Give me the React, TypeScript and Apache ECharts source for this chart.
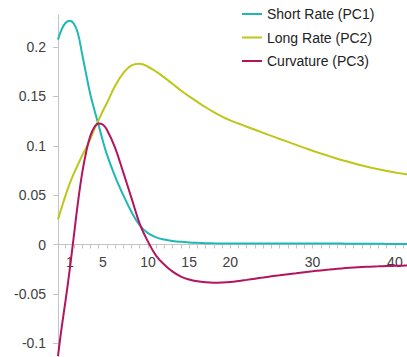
import React, { useEffect, useRef } from "react";
import * as echarts from "echarts";

const maturities = [
  -0.93, -0.5, 0, 0.5, 1, 1.5, 2, 2.5, 3, 3.5, 4, 4.5,
  5, 6, 7, 8, 9, 10, 11, 12, 13, 14, 15, 16, 17, 18, 19, 20,
  21, 22, 23, 24, 25, 26, 27, 28, 29, 30, 31, 32, 33, 34, 35,
  36, 37, 38, 39, 40, 41, 41.47,
];

const shortRate = [
  0.2075, 0.2175, 0.2245, 0.2265, 0.2235, 0.2135, 0.193, 0.172, 0.152, 0.136, 0.121, 0.1055,
  0.0915, 0.069, 0.05, 0.033, 0.0195, 0.0115, 0.0072, 0.005, 0.0036, 0.0027, 0.0021, 0.0017, 0.0014, 0.0012, 0.0011, 0.001,
  0.001, 0.001, 0.001, 0.001, 0.001, 0.001, 0.001, 0.001, 0.001, 0.001, 0.001, 0.001, 0.001, 0.0009, 0.0009,
  0.0008, 0.0008, 0.0007, 0.0006, 0.0005, 0.0005, 0.0004,
];

const longRate = [
  0.0255, 0.037, 0.05, 0.062, 0.072, 0.081, 0.09, 0.098, 0.107, 0.117, 0.126, 0.135,
  0.143, 0.1605, 0.1735, 0.1815, 0.183, 0.18, 0.175, 0.169, 0.1625, 0.156, 0.15, 0.1445, 0.139, 0.134, 0.1295, 0.1257,
  0.1225, 0.1193, 0.1162, 0.1131, 0.11, 0.1069, 0.1039, 0.1009, 0.0979, 0.095, 0.0922, 0.0895, 0.0869, 0.0845, 0.0822,
  0.08, 0.078, 0.0762, 0.0745, 0.073, 0.0716, 0.071,
];

const curvature = [
  -0.113, -0.085, -0.056, -0.025, 0.009, 0.043, 0.072, 0.094, 0.11, 0.119, 0.1225, 0.1215,
  0.1165, 0.098, 0.073, 0.047, 0.021, 0.003, -0.0115, -0.0205, -0.0275, -0.0325, -0.0355, -0.0373, -0.0383, -0.0387, -0.0385, -0.038,
  -0.037, -0.0358, -0.0346, -0.0334, -0.0322, -0.0311, -0.03, -0.029, -0.028, -0.0271, -0.0262, -0.0254, -0.0246, -0.0239, -0.0233,
  -0.0228, -0.0224, -0.0221, -0.0218, -0.0216, -0.0214, -0.0213,
];

const seriesNames = ["Short Rate (PC1)", "Long Rate (PC2)", "Curvature (PC3)"];
const seriesColors = ["#1EB8B6", "#BDC71A", "#B3145E"];
const xLabels = [1, 5, 10, 15, 20, 30, 40];
const yLabels = [-0.1, -0.05, 0, 0.05, 0.1, 0.15, 0.2];

const xTicks: number[] = [];
for (let i = 0; i <= 41; i++) xTicks.push(i);

const FONT = "Liberation Sans, Arial, sans-serif";

export default function App() {
  const ref = useRef<HTMLDivElement>(null);
  useEffect(() => {
    if (!ref.current) return;
    const chart = echarts.init(ref.current, undefined, { renderer: "svg" });
    const values = [shortRate, longRate, curvature];
    chart.setOption({
      animation: false,
      backgroundColor: "#ffffff",
      grid: { left: 58, right: 0, top: 15, bottom: 0, containLabel: false, outerBoundsMode: "none" },
      legend: {
        orient: "vertical",
        left: 242,
        top: 7,
        padding: 0,
        itemWidth: 20,
        itemHeight: 2,
        itemGap: 9.5,
        icon: "rect",
        textStyle: { fontFamily: FONT, fontSize: 14, color: "#222" },
        data: seriesNames,
      },
      xAxis: {
        type: "value",
        position: "bottom",
        offset: 0,
        min: -0.93,
        max: 41.47,
        axisLine: { show: true, onZero: false, lineStyle: { color: "#c4c4c4", width: 1 } },
        axisTick: { show: true, length: 4, lineStyle: { color: "#c4c4c4" }, customValues: xTicks },
        axisLabel: {
          customValues: xLabels,
          margin: 10,
          fontFamily: FONT,
          fontSize: 14,
          color: "#404040",
          formatter: (v: number) => (v < 10 ? `{l|${v}}` : `${v}`),
          rich: { l: { padding: [0, 8, 0, 0], fontFamily: FONT, fontSize: 14, color: "#404040" } },
        },
        splitLine: { show: false },
      },
      yAxis: {
        type: "value",
        min: -0.1139,
        max: 0.2324,
        axisLine: { show: true, onZero: false, lineStyle: { color: "#c4c4c4", width: 1 } },
        axisTick: { show: true, length: 5, lineStyle: { color: "#c4c4c4" }, customValues: yLabels },
        axisLabel: {
          customValues: yLabels,
          margin: 12,
          fontFamily: FONT,
          fontSize: 14,
          color: "#404040",
        },
        splitLine: { show: false },
      },
      series: seriesNames.map((name, k) => ({
        name,
        type: "line",
        smooth: 0.4,
        showSymbol: false,
        symbol: "none",
        color: seriesColors[k],
        lineStyle: { width: 2, color: seriesColors[k] },
        data: maturities.map((m, i) => [m, values[k][i]]),
      })),
    });
    // place the x axis on the y = 0 line, using the y axis scale
    const y0 = chart.convertToPixel({ yAxisIndex: 0 }, 0) as number;
    const gridBottom = chart.getHeight();
    chart.setOption({ xAxis: { offset: y0 - gridBottom } });
    return () => chart.dispose();
  }, []);
  return (
    <div
      ref={ref}
      style={{ position: "absolute", left: 0, top: 0, width: 407, height: 357 }}
    />
  );
}
